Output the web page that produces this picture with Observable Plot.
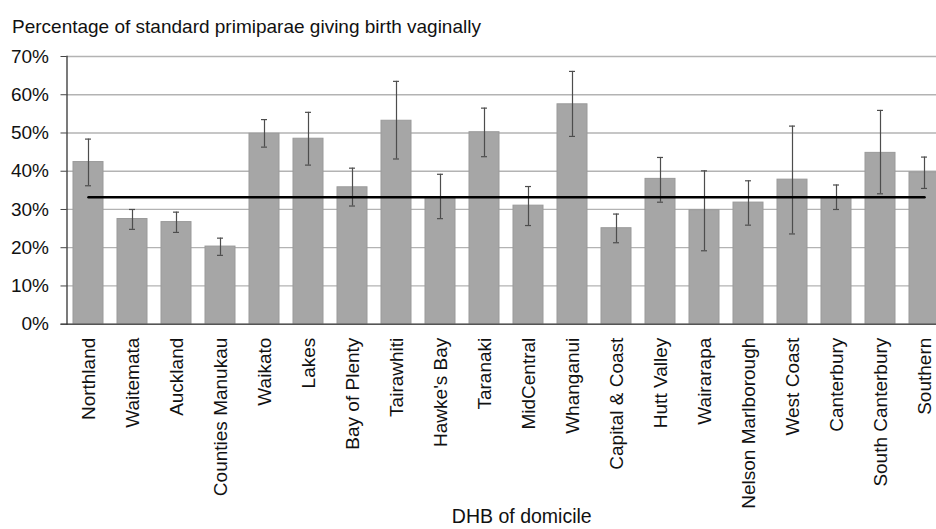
<!DOCTYPE html>
<html><head><meta charset="utf-8">
<script src="https://cdn.jsdelivr.net/npm/d3@7"></script>
<script src="https://cdn.jsdelivr.net/npm/@observablehq/plot@0.6"></script>
<style>
body{margin:0;background:#fff;overflow:hidden;font-family:"Liberation Sans",Arial,sans-serif;}
#title{height:40px;box-sizing:border-box;padding:17px 0 0 12px;font-size:19px;line-height:19px;color:#111;white-space:nowrap}
</style></head><body>
<div id="title">Percentage of standard primiparae giving birth vaginally</div>
<div id="chart"></div>
<script>
const categories = ["Northland","Waitemata","Auckland","Counties Manukau","Waikato","Lakes","Bay of Plenty","Tairawhiti","Hawke's Bay","Taranaki","MidCentral","Whanganui","Capital & Coast","Hutt Valley","Wairarapa","Nelson Marlborough","West Coast","Canterbury","South Canterbury","Southern"];
const values = [42.4,27.5,26.7,20.3,49.8,48.5,35.8,53.2,33.0,50.2,31.0,57.5,25.1,38.0,29.8,31.8,37.8,32.9,44.8,39.7];
const lower  = [36.2,24.8,24.0,18.0,46.3,41.6,30.9,43.2,27.6,43.8,25.8,49.1,21.3,31.9,19.2,25.9,23.6,30.0,34.1,35.5];
const upper  = [48.4,30.0,29.3,22.5,53.5,55.4,40.8,63.5,39.2,56.5,36.0,66.1,28.8,43.6,40.1,37.5,51.8,36.4,55.9,43.7];
const average = 33.2;
const yTicks = [0,10,20,30,40,50,60,70];
const xTitle = "DHB of domicile";

const data = categories.map((c,i)=>({c, v: values[i], lo: lower[i], hi: upper[i]}));
const meanData = categories.map(c=>({c, v: average}));
const errColor = "#4d4d4d";

const chart = Plot.plot({
  width: 936, height: 489,
  marginTop: 16, marginBottom: 205.3, marginLeft: 66.5, marginRight: 0,
  style: {fontFamily: "'Liberation Sans', Arial, sans-serif", fontSize: "19px", color: "#111", background: "#fff", overflow: "hidden"},
  x: {domain: categories, range: [66.5, 946.5], paddingInner: 0.31, paddingOuter: 0.155, label: null},
  y: {domain: [0,70], label: null},
  marks: [
    Plot.gridY(yTicks, {stroke: "#b3b3b3", strokeOpacity: 1, strokeWidth: 1.3}),
    Plot.barY(data, {x:"c", y:"v", fill:"#a6a6a6", stroke:"#9a9a9a", strokeWidth:1}),
    Plot.ruleX(data, {x:"c", y1:"lo", y2:"hi", stroke:errColor, strokeWidth:1.2}),
    Plot.tickY(data, {x:"c", y:"lo", stroke:errColor, strokeWidth:1.2, insetLeft:12, insetRight:12}),
    Plot.tickY(data, {x:"c", y:"hi", stroke:errColor, strokeWidth:1.2, insetLeft:12, insetRight:12}),
    Plot.lineY(meanData, {x:"c", y:"v", stroke:"#000", strokeWidth:2.5}),
    Plot.ruleY([0], {stroke:"#555", strokeWidth:1.5, insetLeft:-6}),
    Plot.axisY(yTicks, {tickFormat: d=>d+"%", tickSize:6, tickPadding:12, stroke:"#444", fontSize:19, label:null}),
    Plot.axisX({tickSize:0, tickRotate:-90, tickPadding:13.5, fontSize:19, label:null}),
    Plot.frame({anchor:"left", stroke:"#333", strokeWidth:1.3}),
    Plot.text([xTitle], {text: d=>d, frameAnchor:"bottom", dy:199, dx:20, lineAnchor:"bottom", fontSize:19.5})
  ]
});
document.getElementById("chart").appendChild(chart);
</script>
</body></html>
